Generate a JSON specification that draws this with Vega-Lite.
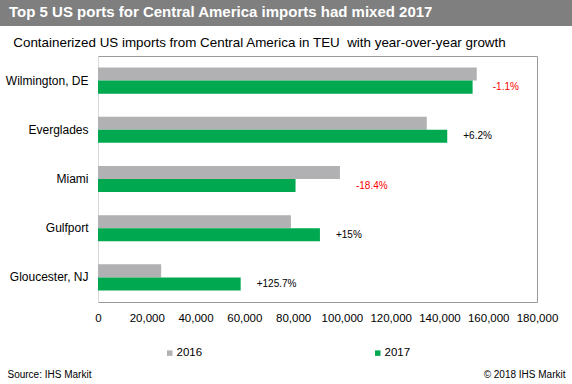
{
  "$schema": "https://vega.github.io/schema/vega-lite/v6.json",
  "padding": 0,
  "background": "white",
  "config": {"font": "Liberation Sans", "view": {"stroke": null}},
  "datasets": {
    "ports": [
      {"port": "Wilmington, DE", "year": "2016", "teu": 155300},
      {"port": "Wilmington, DE", "year": "2017", "teu": 153600, "growth": -0.011, "label": "-1.1%"},
      {"port": "Everglades", "year": "2016", "teu": 134800},
      {"port": "Everglades", "year": "2017", "teu": 143200, "growth": 0.062, "label": "+6.2%"},
      {"port": "Miami", "year": "2016", "teu": 99200},
      {"port": "Miami", "year": "2017", "teu": 81000, "growth": -0.184, "label": "-18.4%"},
      {"port": "Gulfport", "year": "2016", "teu": 79100},
      {"port": "Gulfport", "year": "2017", "teu": 91000, "growth": 0.15, "label": "+15%"},
      {"port": "Gloucester, NJ", "year": "2016", "teu": 25900},
      {"port": "Gloucester, NJ", "year": "2017", "teu": 58500, "growth": 1.257, "label": "+125.7%"}
    ],
    "texts": [
      {"kind": "header", "text": "Top 5 US ports for Central America imports had mixed 2017"},
      {"kind": "subtitle", "text": "Containerized US imports from Central America in TEU\u00a0 with year-over-year growth"}
    ]
  },
  "spacing": 0,
  "bounds": "flush",
  "resolve": {"legend": {"color": "independent"}},
  "vconcat": [
    {
      "width": 572,
      "height": 26,
      "data": {"name": "texts"},
      "transform": [{"filter": "datum.kind == 'header'"}],
      "mark": {"type": "text", "align": "left", "baseline": "alphabetic", "dx": -277, "dy": 4.3, "fontSize": 15, "fontWeight": "bold", "color": "#ffffff", "font": "Liberation Sans"},
      "encoding": {"text": {"field": "text"}},
      "view": {"fill": "#7f7f7f", "stroke": null}
    },
    {
      "width": 572,
      "height": 30,
      "data": {"name": "texts"},
      "transform": [{"filter": "datum.kind == 'subtitle'"}],
      "mark": {"type": "text", "align": "left", "baseline": "alphabetic", "dx": -272.7, "dy": 5.7, "fontSize": 13.4, "color": "#000000", "font": "Liberation Sans"},
      "encoding": {"text": {"field": "text"}}
    },
    {
      "spacing": 0,
      "bounds": "flush",
      "resolve": {"legend": {"color": "independent"}},
      "hconcat": [
        {
          "width": 98,
          "height": 246,
          "data": {"values": []},
          "mark": "point",
          "encoding": {}
        },
        {
          "width": 439,
          "height": 246,
          "data": {"name": "ports"},
          "view": {"stroke": "#9a9a9a"},
          "encoding": {
            "y": {
              "field": "port",
              "type": "nominal",
              "sort": ["Wilmington, DE", "Everglades", "Miami", "Gulfport", "Gloucester, NJ"],
              "scale": {"paddingInner": 0.47, "paddingOuter": 0.235},
              "axis": {
                "title": "Source: IHS Markit",
                "titleX": -91,
                "titleY": 321,
                "titleAngle": 0,
                "titleAlign": "left",
                "titleBaseline": "alphabetic",
                "titleFontSize": 10,
                "titleFontWeight": "normal",
                "titleColor": "#000000",
                "labelFontSize": 12,
                "labelColor": "#000000",
                "labelPadding": 10,
                "labelLimit": 200,
                "ticks": false,
                "domainColor": "#d9d9d9"
              }
            },
            "yOffset": {
              "field": "year",
              "type": "nominal",
              "sort": ["2016", "2017"],
              "scale": {"paddingInner": 0, "paddingOuter": 0}
            }
          },
          "layer": [
            {
              "mark": {"type": "bar"},
              "encoding": {
                "x": {
                  "field": "teu",
                  "type": "quantitative",
                  "scale": {"domain": [0, 180000], "nice": false},
                  "axis": {
                    "title": "© 2018 IHS Markit",
                    "titleX": 467,
                    "titleY": 75,
                    "titleAlign": "right",
                    "titleBaseline": "alphabetic",
                    "titleFontSize": 10,
                    "titleFontWeight": "normal",
                    "titleColor": "#000000",
                    "values": [0, 20000, 40000, 60000, 80000, 100000, 120000, 140000, 160000, 180000],
                    "format": ",d",
                    "labelFontSize": 11.5,
                    "labelColor": "#000000",
                    "labelPadding": 10,
                    "labelFlush": false,
                    "labelOverlap": false,
                    "ticks": false,
                    "domain": false,
                    "grid": false
                  }
                },
                "color": {
                  "field": "year",
                  "type": "nominal",
                  "scale": {"domain": ["2016", "2017"], "range": ["#b1b1b3", "#00a94f"]},
                  "legend": {
                    "orient": "none",
                    "legendX": 66,
                    "legendY": 291,
                    "direction": "horizontal",
                    "title": null,
                    "symbolType": "square",
                    "symbolSize": 30,
                    "symbolStrokeWidth": 0,
                    "labelFontSize": 11.5,
                    "labelColor": "#000000",
                    "labelOffset": 1,
                    "columnPadding": 169,
                    "padding": 0
                  }
                }
              }
            },
            {
              "transform": [
                {"joinaggregate": [{"op": "max", "field": "teu", "as": "maxTeu"}], "groupby": ["port"]},
                {"filter": "isValid(datum.label)"}
              ],
              "mark": {"type": "text", "align": "left", "baseline": "middle", "dx": 16, "fontSize": 10, "font": "Liberation Sans"},
              "encoding": {
                "x": {"field": "maxTeu", "type": "quantitative", "title": "© 2018 IHS Markit"},
                "text": {"field": "label"},
                "color": {"condition": {"test": "datum.growth < 0", "value": "#ff0000"}, "value": "#000000"}
              }
            }
          ]
        }
      ]
    }
  ]
}
